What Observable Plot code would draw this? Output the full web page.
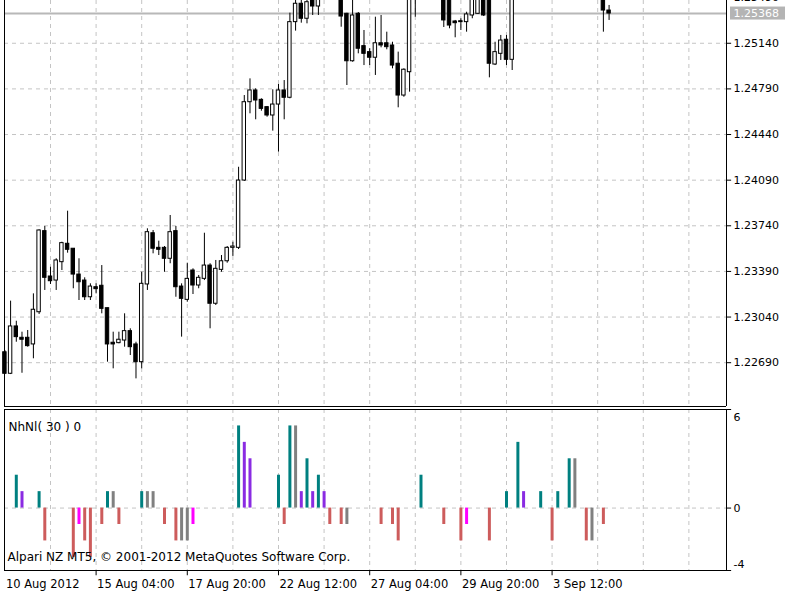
<!DOCTYPE html>
<html><head><meta charset="utf-8">
<script src="https://cdn.jsdelivr.net/npm/d3@7"></script>
<script src="https://cdn.jsdelivr.net/npm/@observablehq/plot@0.6"></script>
<style>
body{margin:0;background:#fff;}
#chart{position:relative;width:800px;height:600px;overflow:hidden;background:#fff;}
#chart svg{position:absolute;left:0;overflow:hidden;}
</style></head><body><div id="chart"></div>
<script>
// ---- EURUSD-like H4 candles (bar index 0 = 10 Aug 2012 12:00) ----
const open = [1.22770,1.22605,1.22968,1.22881,1.22881,1.22830,1.23077,1.23699,1.23351,1.23320,
1.23461,1.23602,1.23564,1.23366,1.23320,1.23192,1.23269,1.23280,1.23108,1.22843,
1.22840,1.22860,1.22932,1.22830,1.22694,1.23290,1.23683,1.23571,1.23571,1.23487,
1.23699,1.23274,1.23172,1.23397,1.23282,1.23333,1.23435,1.23142,1.23402,1.23468,
1.23571,1.23571,1.24087,1.24688,1.24778,1.24706,1.24650,1.24586,1.24670,1.24778,
1.24722,1.25302,1.25443,1.25328,1.25514,1.25422,1.25525,1.25600,1.25560,1.25506,
1.25366,1.25002,1.25366,1.25118,1.25072,1.25029,1.25140,1.25140,1.25123,1.24983,
1.24739,1.24918,1.25483,1.25583,1.25650,1.25610,1.25640,1.25560,1.25491,1.25307,
1.25309,1.25302,1.25353,1.25366,1.25483,1.25483,1.24977,1.25059,1.25167,1.25013,
1.25491,1.25580,1.25620,1.25590,1.25640,1.25690,1.25650,1.25600,1.25680,1.25660,
1.25740,1.25760,1.25700,1.25630,1.25580,1.25540,1.25391];
const high = [1.22783,1.23162,1.23008,1.22924,1.22937,1.23218,1.23709,1.23735,1.23422,1.23487,
1.23614,1.23852,1.23564,1.23487,1.23341,1.23295,1.23295,1.23435,1.23108,1.22924,
1.22924,1.23065,1.22950,1.22847,1.23384,1.23717,1.23704,1.23622,1.23581,1.23819,
1.23735,1.23295,1.23453,1.23410,1.23359,1.23683,1.23449,1.23474,1.23512,1.23581,
1.23614,1.24189,1.24739,1.24867,1.24791,1.24714,1.24655,1.24783,1.24824,1.24854,
1.25371,1.25529,1.25506,1.25529,1.25545,1.25560,1.25630,1.25650,1.25590,1.25545,
1.25370,1.25491,1.25376,1.25238,1.25098,1.25340,1.25353,1.25225,1.25148,1.25072,
1.24944,1.25529,1.25621,1.25680,1.25690,1.25670,1.25660,1.25580,1.25514,1.25315,
1.25328,1.25378,1.25514,1.25529,1.25506,1.25499,1.25148,1.25200,1.25200,1.25529,
1.25610,1.25660,1.25650,1.25670,1.25720,1.25710,1.25670,1.25730,1.25700,1.25770,
1.25790,1.25780,1.25720,1.25650,1.25610,1.25560,1.25430];
const low = [1.22599,1.22599,1.22847,1.22609,1.22809,1.22720,1.23060,1.23244,1.23290,1.23244,
1.23397,1.23530,1.23257,1.23167,1.23167,1.23167,1.23218,1.23065,1.22694,1.22643,
1.22835,1.22809,1.22745,1.22566,1.22643,1.23244,1.23525,1.23512,1.23384,1.23449,
1.23192,1.22886,1.23154,1.23213,1.23257,1.23320,1.22950,1.23129,1.23384,1.23453,
1.23505,1.23558,1.24080,1.24599,1.24553,1.24619,1.24573,1.24466,1.24305,1.24553,
1.24714,1.25233,1.25294,1.25289,1.25353,1.25353,1.25500,1.25530,1.25490,1.25263,
1.24816,1.24995,1.25059,1.24969,1.24969,1.24893,1.25105,1.25090,1.24944,1.24645,
1.24726,1.24765,1.25340,1.25560,1.25580,1.25580,1.25520,1.25261,1.25251,1.25182,
1.25238,1.25225,1.25328,1.25361,1.25345,1.24875,1.24969,1.25008,1.24969,1.24931,
1.25480,1.25550,1.25560,1.25570,1.25620,1.25620,1.25570,1.25590,1.25630,1.25650,
1.25700,1.25670,1.25600,1.25540,1.25510,1.25225,1.25315];
const close = [1.22605,1.22968,1.22886,1.22866,1.22817,1.23096,1.23704,1.23341,1.23315,1.23474,
1.23607,1.23556,1.23366,1.23307,1.23192,1.23274,1.23254,1.23103,1.22830,1.22830,
1.22866,1.22932,1.22809,1.22694,1.23295,1.23691,1.23564,1.23556,1.23487,1.23691,
1.23269,1.23180,1.23333,1.23282,1.23341,1.23435,1.23142,1.23410,1.23468,1.23571,
1.23581,1.24087,1.24688,1.24778,1.24701,1.24637,1.24586,1.24670,1.24778,1.24722,
1.25302,1.25443,1.25328,1.25455,1.25422,1.25529,1.25600,1.25560,1.25520,1.25345,
1.25002,1.25353,1.25098,1.25059,1.25029,1.25140,1.25123,1.25110,1.24969,1.24739,
1.24937,1.25491,1.25583,1.25650,1.25610,1.25640,1.25560,1.25315,1.25276,1.25294,
1.25302,1.25361,1.25483,1.25499,1.25353,1.24983,1.25072,1.25161,1.25013,1.25491,
1.25580,1.25620,1.25590,1.25640,1.25690,1.25650,1.25600,1.25680,1.25660,1.25740,
1.25760,1.25700,1.25630,1.25580,1.25540,1.25391,1.25368];

const priceTicks = [1.22690,1.23040,1.23390,1.23740,1.24090,1.24440,1.24790,1.25140,1.25490];
const lastPrice = 1.25368;
const gridBars = [8,16,24,32,40,48,56,64,72,80,88,96,104,112,120];
const timeTickBars = [0,16,32,48,64,80,96];
const timeTickLabels = ["10 Aug 2012","15 Aug 04:00","17 Aug 20:00","22 Aug 12:00","27 Aug 04:00","29 Aug 20:00","3 Sep 12:00"];

// ---- NhNl(30) indicator ----
const nhnlBar = [2,3,6,7,12,13,14,15,17,18,19,20,24,25,26,28,30,31,32,33,41,42,43,48,49,50,51,52,53,54,55,56,57,59,60,66,68,69,73,77,80,81,85,88,90,91,94,96,97,99,100,102,103,105];
const nhnlValue = [2,1,1,-2,-3,-1,-2,-3,-1,1,1,-1,1,1,1,-1,-2,-2,-2,-1,5,4,3,2,-1,5,5,1,3,1,2,1,-1,-1,-1,-1,-1,-2,2,-1,-2,-1,-2,1,4,1,1,-2,1,3,3,-2,-2,-1];
const nhnlState = ["T","P","T","R","R","M","R","R","R","T","G","R","T","G","G","R","R","G","G","M","T","P","P","T","R","T","G","P","T","P","T","P","R","R","G","R","R","R","T","R","R","M","R","T","T","P","T","R","T","T","G","R","G","R"];
const indTickTop = 6, indTickZero = 0, indTickBottom = -4;
const indName = "NhNl( 30 ) 0";
const copyright = "Alpari NZ MT5, \u00A9 2001-2012 MetaQuotes Software Corp.";

const stateColor = {T:"#008080", P:"#8a2be2", R:"#cd5c5c", G:"#808080", M:"#ff00ff"};

const bars = open.map((o,i)=>({i, o, h: high[i], l: low[i], c: close[i]}));
const upBars = bars.filter(d=>d.c >= d.o);
const downBars = bars.filter(d=>d.c < d.o);
const nhnl = nhnlBar.map((b,k)=>({i:b, v:nhnlValue[k], s:nhnlState[k]}));
const timeTicks = timeTickBars.map((b,k)=>({i:b, label:timeTickLabels[k]}));

const xDomain = [-0.07, 126.6];
const xmax = xDomain[1];
const yMainDomain = [1.22354, 1.25468];
const indDomain = [-3.8, 6];
const gridStyle = {stroke:"#c4c4c4", strokeDasharray:"4,4"};
const font = "DejaVu Sans";

const main = Plot.plot({
  width: 800, height: 407,
  marginLeft: 4, marginRight: 74, marginTop: 0, marginBottom: 1,
  x: {type:"linear", domain: xDomain, axis: null},
  y: {type:"linear", domain: yMainDomain, axis: null},
  style: {fontFamily: font, fontSize: "11px", background: "transparent", overflow: "hidden"},
  marks: [
    Plot.ruleY(priceTicks, gridStyle),
    Plot.ruleX(gridBars, gridStyle),
    Plot.ruleY([lastPrice], {stroke:"#b8b8b8", strokeWidth: 2}),
    Plot.ruleX(bars, {x:"i", y1:"l", y2:"h", stroke:"black"}),
    Plot.rect(upBars, {x1: d=>d.i-0.3, x2: d=>d.i+0.3, y1:"o", y2:"c", fill:"white", stroke:"black"}),
    Plot.rect(downBars, {x1: d=>d.i-0.3, x2: d=>d.i+0.3, y1:"o", y2:"c", fill:"black", stroke:"black"}),
    Plot.ruleX([xDomain[0], xDomain[1]], {stroke:"black"}),
    Plot.ruleY([yMainDomain[0]], {stroke:"black"}),
    Plot.ruleY(priceTicks, {x1: xmax, x2: xmax + 0.9, stroke:"black"}),
    Plot.text(priceTicks, {x: xmax, y: d=>d, text: d=>d.toFixed(5), textAnchor:"start", dx: 7, fill:"black"}),
    Plot.rect([lastPrice], {x1: xmax, x2: xmax, y1: d=>d, y2: d=>d, insetLeft: 4, insetRight: -59, insetTop: -6.5, insetBottom: -6.5, fill:"#b4b4b4"}),
    Plot.text([lastPrice], {x: xmax, y: d=>d, text: d=>d.toFixed(5), textAnchor:"start", dx: 7, fill:"white"})
  ]
});
main.style.top = "0px";

const ind = Plot.plot({
  width: 800, height: 193,
  marginLeft: 4, marginRight: 74, marginTop: 2, marginBottom: 30,
  x: {type:"linear", domain: xDomain, axis: null},
  y: {type:"linear", domain: indDomain, axis: null},
  style: {fontFamily: font, fontSize: "11px", background: "transparent", overflow: "hidden"},
  marks: [
    Plot.ruleX(gridBars, gridStyle),
    Plot.ruleY([indTickZero], gridStyle),
    Plot.ruleX(nhnl, {x:"i", y1: 0, y2:"v", stroke: d=>stateColor[d.s], strokeWidth: 3}),
    Plot.frame({stroke:"black"}),
    Plot.ruleY([indTickTop, indTickZero, indDomain[0]], {x1: xmax, x2: xmax + 0.9, stroke:"black"}),
    Plot.text([indTickTop], {x: xmax, y: d=>d, text: d=>String(d), textAnchor:"start", dx: 7, dy: 8}),
    Plot.text([indTickZero], {x: xmax, y: d=>d, text: d=>String(d), textAnchor:"start", dx: 7}),
    Plot.text([indTickBottom], {x: xmax, y: () => indDomain[0], text: d=>String(d), textAnchor:"start", dx: 7, dy: -6}),
    Plot.text([indName], {frameAnchor:"top-left", text: d=>d, textAnchor:"start", dx: 4, dy: 13, fontSize: 12}),
    Plot.text([copyright], {frameAnchor:"bottom-left", text: d=>d, textAnchor:"start", dx: 3, dy: -10, fontSize: 12}),
    Plot.ruleX(timeTicks.slice(1), {x:"i", y1: indDomain[0], y2: indDomain[0] - 0.32, stroke:"black"}),
    Plot.text(timeTicks, {x:"i", y: () => indDomain[0], text:"label", textAnchor:"start", dx: 1, dy: 14, fontSize: 11.5})
  ]
});
ind.style.top = "407px";

const host = document.getElementById("chart");
host.appendChild(main);
host.appendChild(ind);
</script></body></html>
